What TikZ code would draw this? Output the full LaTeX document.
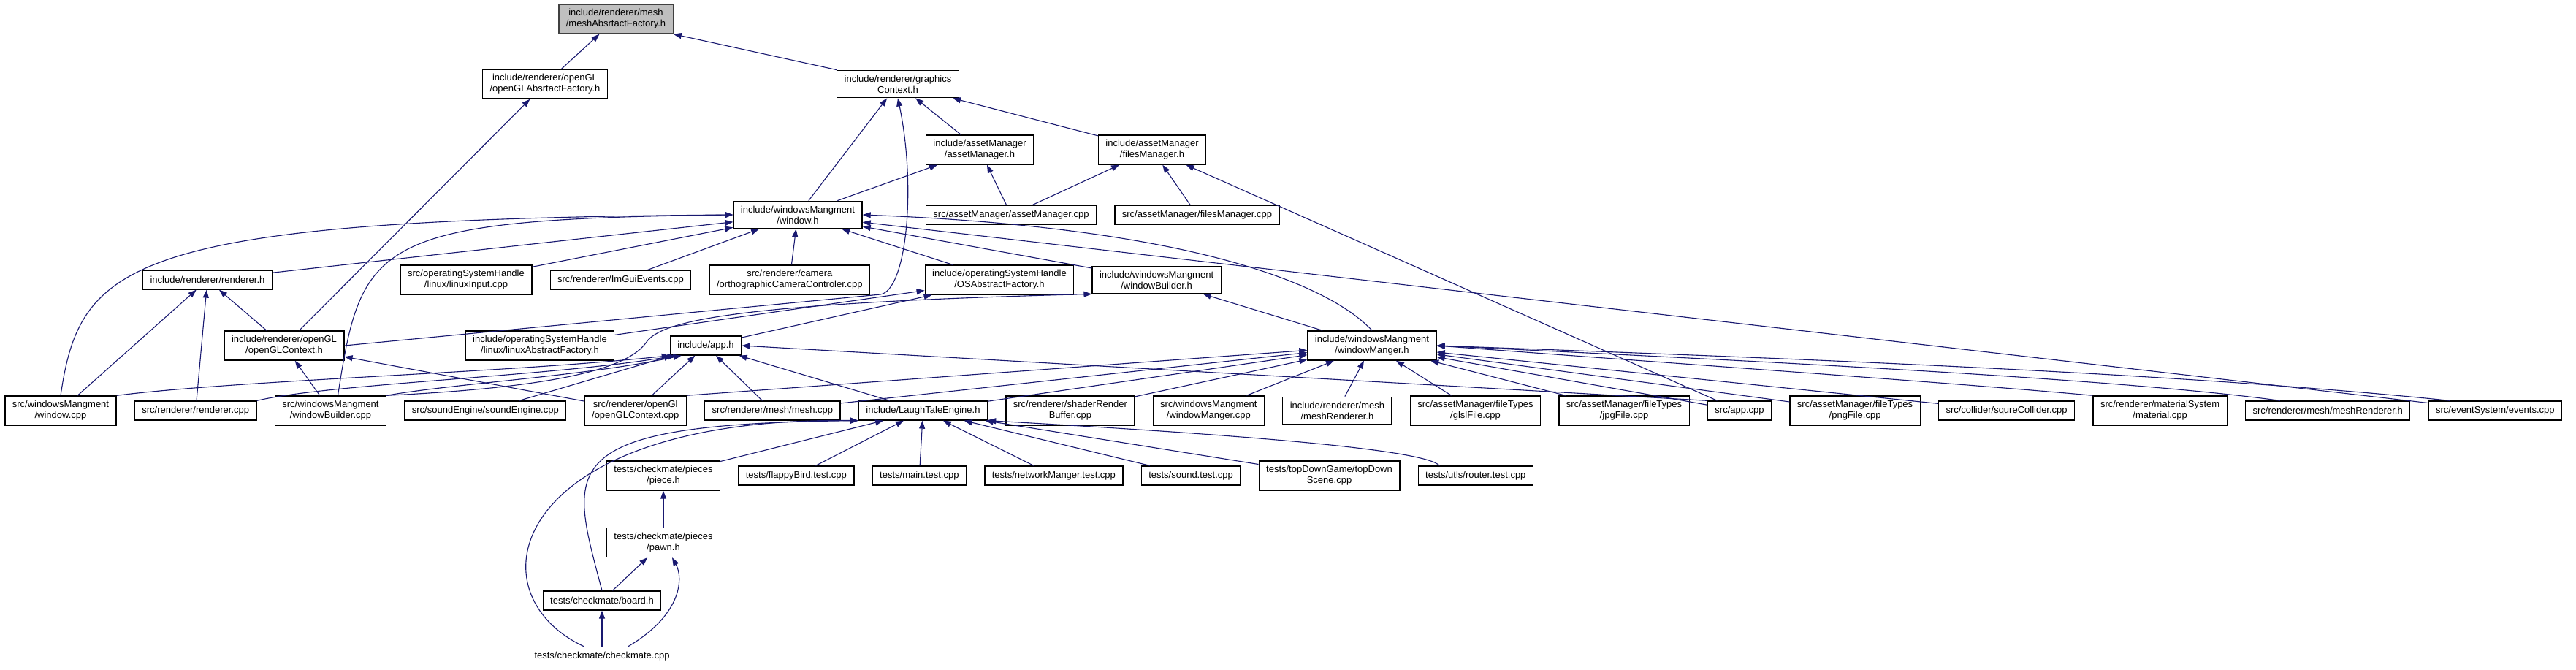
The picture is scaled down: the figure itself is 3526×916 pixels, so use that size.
\documentclass[tikz,border=0pt]{standalone}
\usepackage{fontspec}
\setmainfont{Liberation Sans}
\usepackage{tikz}
\usetikzlibrary{
    arrows.meta,
    positioning
}
\definecolor{edgeblue}{HTML}{191970}
\definecolor{rootgray}{HTML}{BFBFBF}
\tikzstyle{file} = [
    rectangle,
    draw=black,
    line width=1.3pt,
    fill=white,
    align=center,
    inner xsep=10pt,
    inner ysep=6.5pt,
    minimum height=26pt,
    font=\fontsize{13pt}{15pt}\selectfont
]
\tikzstyle{rootfile} = [
    file,
    fill=rootgray,
    draw=black!75
]
\tikzstyle{dep} = [
    ->,
    >={Triangle[length=11pt,width=8pt]},
    line width=1.1pt,
    draw=edgeblue
]

\begin{document}
\begin{tikzpicture}[x=1pt, y=-1pt, node distance=24pt]
        \useasboundingbox (0,0) rectangle (3526,916);

        \node[rootfile] (meshFactory) at (843,26) {include/renderer/mesh\\/meshAbsrtactFactory.h};
        \node[file] (glFactory) at (746,115) {include/renderer/openGL\\/openGLAbsrtactFactory.h};
        \node[file] (gfxContext) at (1229,115) {include/renderer/graphics\\Context.h};
        \node[file] (assetH) at (1341,205) {include/assetManager\\/assetManager.h};
        \node[file] (filesH) at (1577,205) {include/assetManager\\/filesManager.h};
        \node[file] (windowH) at (1092,294) {include/windowsMangment\\/window.h};
        \node[file] (assetCpp) at (1384,294) {src/assetManager/assetManager.cpp};
        \node[file, right=of assetCpp] (filesCpp) {src/assetManager/filesManager.cpp};

        \node[file] (rendererH) at (284,383) {include/renderer/renderer.h};
        \node[file] (linuxInput) at (638,383) {src/operatingSystemHandle\\/linux/linuxInput.cpp};
        \node[file, right=of linuxInput] (imguiEvents) {src/renderer/ImGuiEvents.cpp};
        \node[file, right=of imguiEvents] (orthoCamera) {src/renderer/camera\\/orthographicCameraControler.cpp};
        \node[file] (osFactory) at (1368,383) {include/operatingSystemHandle\\/OSAbstractFactory.h};
        \node[file, right=of osFactory] (builderH) {include/windowsMangment\\/windowBuilder.h};

        \node[file] (glContextH) at (389,473) {include/renderer/openGL\\/openGLContext.h};
        \node[file] (linuxFactory) at (739,473) {include/operatingSystemHandle\\/linux/linuxAbstractFactory.h};
        \node[file] (appH) at (966,473) {include/app.h};
        \node[file] (managerH) at (1878,473) {include/windowsMangment\\/windowManger.h};

        \node[file] (windowCpp) at (83,562) {src/windowsMangment\\/window.cpp};
        \node[file, right=of windowCpp] (rendererCpp) {src/renderer/renderer.cpp};
        \node[file, right=of rendererCpp] (builderCpp) {src/windowsMangment\\/windowBuilder.cpp};
        \node[file, right=of builderCpp] (soundEngine) {src/soundEngine/soundEngine.cpp};
        \node[file, right=of soundEngine] (glContextCpp) {src/renderer/openGl\\/openGLContext.cpp};
        \node[file, right=of glContextCpp] (meshCpp) {src/renderer/mesh/mesh.cpp};
        \node[file, right=of meshCpp] (engineH) {include/LaughTaleEngine.h};
        \node[file, right=of engineH] (shaderBuffer) {src/renderer/shaderRender\\Buffer.cpp};
        \node[file, right=of shaderBuffer] (managerCpp) {src/windowsMangment\\/windowManger.cpp};
        \node[file, right=of managerCpp] (meshRendererH) {include/renderer/mesh\\/meshRenderer.h};
        \node[file, right=of meshRendererH] (glslFile) {src/assetManager/fileTypes\\/glslFile.cpp};
        \node[file, right=of glslFile] (jpgFile) {src/assetManager/fileTypes\\/jpgFile.cpp};
        \node[file, right=of jpgFile] (appCpp) {src/app.cpp};
        \node[file, right=of appCpp] (pngFile) {src/assetManager/fileTypes\\/pngFile.cpp};
        \node[file, right=of pngFile] (collider) {src/collider/squreCollider.cpp};
        \node[file, right=of collider] (material) {src/renderer/materialSystem\\/material.cpp};
        \node[file, right=of material] (meshRendererSrc) {src/renderer/mesh/meshRenderer.h};
        \node[file, right=of meshRendererSrc] (events) {src/eventSystem/events.cpp};

        \node[file] (piece) at (908,651) {tests/checkmate/pieces\\/piece.h};
        \node[file, right=of piece] (flappyTest) {tests/flappyBird.test.cpp};
        \node[file, right=of flappyTest] (mainTest) {tests/main.test.cpp};
        \node[file, right=of mainTest] (networkTest) {tests/networkManger.test.cpp};
        \node[file, right=of networkTest] (soundTest) {tests/sound.test.cpp};
        \node[file, right=of soundTest] (topDown) {tests/topDownGame/topDown\\Scene.cpp};
        \node[file, right=of topDown] (routerTest) {tests/utls/router.test.cpp};

        \node[file, below=50pt of piece] (pawn) {tests/checkmate/pieces\\/pawn.h};
        \node[file] (board) at (824,822) {tests/checkmate/board.h};
        \node[file, below=49pt of board] (checkmate) {tests/checkmate/checkmate.cpp};

        \coordinate (gfxBend) at (1205,403);

        \draw[dep] (glFactory) -- (meshFactory);
        \draw[dep] (gfxContext.north west) -- (meshFactory.south east);
        \draw[dep] (glContextH) -- (glFactory);
        \draw[dep] (windowH) -- (gfxContext);
        \draw[dep] (assetH) -- (gfxContext);
        \draw[dep] (filesH) -- (gfxContext);
        \draw[dep] (glContextH.east) -- (gfxBend) .. controls (1240,398) and (1255,260) .. (gfxContext.south);
        \draw[dep] (windowH) -- (assetH);
        \draw[dep] (assetCpp) -- (assetH);
        \draw[dep] (assetCpp) -- (filesH);
        \draw[dep] (filesCpp) -- (filesH);
        \draw[dep] (appCpp) -- (filesH);

        \draw[dep] (rendererH) -- (windowH);
        \draw[dep] (linuxInput) -- (windowH);
        \draw[dep] (imguiEvents) -- (windowH);
        \draw[dep] (orthoCamera) -- (windowH);
        \draw[dep] (osFactory) -- (windowH);
        \draw[dep] (builderH) -- (windowH);
        \draw[dep] (managerH.north) .. controls (1810,380) and (1600,310) .. (windowH.east);
        \draw[dep] (events) -- (windowH);
        \draw[dep] (windowCpp.north) .. controls (110,360) and (170,300) .. (windowH.west);
        \draw[dep] ([xshift=10pt]builderCpp.north) .. controls (495,330) and (510,300) .. (windowH.west);

        \draw[dep] (windowCpp) -- (rendererH);
        \draw[dep] (rendererCpp) -- (rendererH);
        \draw[dep] (glContextH) -- (rendererH);
        \draw[dep] (builderCpp) -- (glContextH);
        \draw[dep] (glContextCpp) -- (glContextH);

        \draw[dep] (linuxFactory) -- (osFactory);
        \draw[dep] (appH) -- (osFactory);
        \draw[dep] (builderCpp.north east) .. controls (760,530) and (860,505) .. (885,468)
            .. controls (905,440) and (1000,415) .. (builderH.south west);
        \draw[dep] (managerH) -- (builderH);

        \draw[dep] (windowCpp.north east) .. controls (330,520) and (700,510) .. (appH.south west);
        \draw[dep] (rendererCpp.north east) .. controls (450,525) and (760,515) .. ([xshift=8pt]appH.south west);
        \draw[dep] (builderCpp.north east) .. controls (620,525) and (800,515) .. ([xshift=16pt]appH.south west);
        \draw[dep] (soundEngine) -- (appH);
        \draw[dep] (glContextCpp) -- (appH);
        \draw[dep] (meshCpp) -- (appH);
        \draw[dep] (engineH) -- (appH);
        \draw[dep] (appCpp.north west) -- (appH.east);

        \draw[dep] (glContextCpp.north east) -- (managerH);
        \draw[dep] (meshCpp) -- (managerH);
        \draw[dep] (engineH) -- (managerH);
        \draw[dep] (shaderBuffer) -- (managerH);
        \draw[dep] (managerCpp) -- (managerH);
        \draw[dep] (meshRendererH) -- (managerH);
        \draw[dep] (glslFile) -- (managerH);
        \draw[dep] (jpgFile) -- (managerH);
        \draw[dep] (appCpp) -- (managerH);
        \draw[dep] (pngFile) -- (managerH);
        \draw[dep] (collider) -- (managerH);
        \draw[dep] (material.north west) .. controls (2700,526) and (2300,498) .. (managerH.east);
        \draw[dep] ([xshift=48pt]meshRendererSrc.north west) .. controls (2900,518) and (2400,494) .. (managerH.east);
        \draw[dep] ([xshift=30pt]events.north west) .. controls (3000,512) and (2500,492) .. (managerH.east);

        \draw[dep] (piece) -- (engineH);
        \draw[dep] (flappyTest) -- (engineH);
        \draw[dep] (mainTest) -- (engineH);
        \draw[dep] (networkTest) -- (engineH);
        \draw[dep] (soundTest) -- (engineH);
        \draw[dep] (topDown) -- (engineH);
        \draw[dep] ([xshift=30pt]routerTest.north west) .. controls (1950,615) and (1700,595) .. (engineH.south east);
        \draw[dep] (board.north) .. controls (780,640) and (750,580) .. (engineH.south west);
        \draw[dep] ([xshift=-25pt]checkmate.north) .. controls (640,810) and (700,570) .. (engineH.south west);

        \draw[dep] (pawn) -- (piece);
        \draw[dep] (board) -- (pawn);
        \draw[dep] (checkmate) -- (board);
        \draw[dep] ([xshift=36pt]checkmate.north) .. controls (935,840) and (935,790) .. ([xshift=12pt]pawn.south);
    \end{tikzpicture}
\end{document}
